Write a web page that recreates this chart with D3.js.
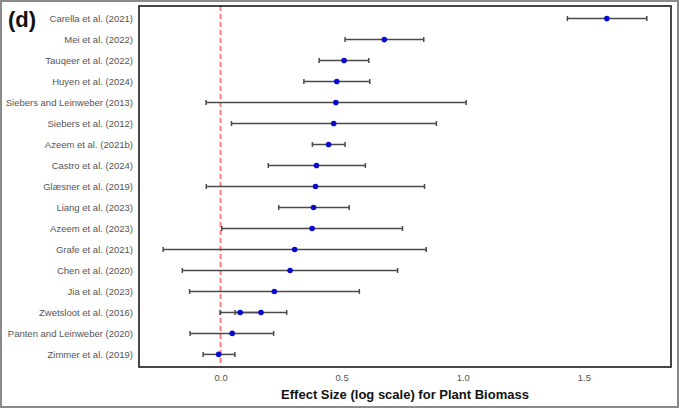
<!DOCTYPE html>
<html>
<head>
<meta charset="utf-8">
<script src="https://cdn.jsdelivr.net/npm/d3@7"></script>
<style>
  body { margin: 0; background: #fff; }
  svg { display: block; font-family: "Liberation Sans", Arial, sans-serif; }
</style>
</head>
<body>
<div id="chart"></div>
<script>
// study labels, top to bottom
const studies = [
  "Carella et al. (2021)", "Mei et al. (2022)", "Tauqeer et al. (2022)",
  "Huyen et al. (2024)", "Siebers and Leinweber (2013)", "Siebers et al. (2012)",
  "Azeem et al. (2021b)", "Castro et al. (2024)", "Glæsner et al. (2019)",
  "Liang et al. (2023)", "Azeem et al. (2023)", "Grafe et al. (2021)",
  "Chen et al. (2020)", "Jia et al. (2023)", "Zwetsloot et al. (2016)",
  "Panten and Leinweber (2020)", "Zimmer et al. (2019)"
];

// one entry per estimate (Zwetsloot has two)
const rowStudy = [
  "Carella et al. (2021)", "Mei et al. (2022)", "Tauqeer et al. (2022)",
  "Huyen et al. (2024)", "Siebers and Leinweber (2013)", "Siebers et al. (2012)",
  "Azeem et al. (2021b)", "Castro et al. (2024)", "Glæsner et al. (2019)",
  "Liang et al. (2023)", "Azeem et al. (2023)", "Grafe et al. (2021)",
  "Chen et al. (2020)", "Jia et al. (2023)", "Zwetsloot et al. (2016)",
  "Zwetsloot et al. (2016)", "Panten and Leinweber (2020)", "Zimmer et al. (2019)"
];
const effect = [1.595, 0.676, 0.510, 0.480, 0.476, 0.467, 0.446, 0.396, 0.392, 0.384, 0.378, 0.306, 0.287, 0.222, 0.081, 0.167, 0.048, -0.008];
const lower  = [1.432, 0.514, 0.407, 0.344, -0.060, 0.045, 0.379, 0.197, -0.059, 0.240, 0.005, -0.237, -0.158, -0.128, -0.002, 0.060, -0.126, -0.072];
const upper  = [1.760, 0.839, 0.612, 0.616, 1.014, 0.891, 0.514, 0.598, 0.842, 0.531, 0.751, 0.849, 0.731, 0.573, 0.165, 0.273, 0.219, 0.059];

const xTicks = [0, 0.5, 1.0, 1.5];
const xTitle = "Effect Size (log scale) for Plant Biomass";
const panelTag = "(d)";

const width = 679, height = 408;
const margin = {top: 6, right: 8, bottom: 41, left: 139};

const svg = d3.select("#chart").append("svg")
  .attr("width", width)
  .attr("height", height);

// outer frame of the figure
svg.append("rect")
  .attr("x", 1).attr("y", 1)
  .attr("width", width - 2).attr("height", height - 2)
  .attr("fill", "none")
  .attr("stroke", "#8a8a8a")
  .attr("stroke-width", 2);

const data = rowStudy.map((s, i) => ({study: s, est: effect[i], lo: lower[i], hi: upper[i]}));

// ggplot-like 5% expansion
const lo = d3.min(lower), hi = d3.max(upper), pad = (hi - lo) * 0.05;
const x = d3.scaleLinear()
  .domain([lo - pad, hi + pad])
  .range([margin.left, width - margin.right]);

const y = d3.scalePoint()
  .domain(studies)
  .range([margin.top, height - margin.bottom])
  .padding(0.6);

// reference line at zero
svg.append("line")
  .attr("x1", x(0)).attr("x2", x(0))
  .attr("y1", margin.top).attr("y2", height - margin.bottom)
  .attr("stroke", "#f47f7f")
  .attr("stroke-width", 2)
  .attr("stroke-dasharray", "5,3");

// error bars
const bars = svg.append("g").selectAll("g")
  .data(data)
  .enter().append("g")
  .attr("stroke", "#4a4a4a")
  .attr("stroke-width", 1.5);

bars.append("line")
  .attr("x1", d => x(d.lo)).attr("x2", d => x(d.hi))
  .attr("y1", d => y(d.study)).attr("y2", d => y(d.study));
bars.append("line")
  .attr("x1", d => x(d.lo)).attr("x2", d => x(d.lo))
  .attr("y1", d => y(d.study) - 2.5).attr("y2", d => y(d.study) + 2.5);
bars.append("line")
  .attr("x1", d => x(d.hi)).attr("x2", d => x(d.hi))
  .attr("y1", d => y(d.study) - 2.5).attr("y2", d => y(d.study) + 2.5);

// points
svg.append("g").selectAll("circle")
  .data(data)
  .enter().append("circle")
  .attr("cx", d => x(d.est))
  .attr("cy", d => y(d.study))
  .attr("r", 2.8)
  .attr("fill", "#0a0acc");

// panel border
svg.append("rect")
  .attr("x", margin.left).attr("y", margin.top)
  .attr("width", width - margin.left - margin.right)
  .attr("height", height - margin.top - margin.bottom)
  .attr("fill", "none")
  .attr("stroke", "#1a1a1a")
  .attr("stroke-width", 1.6);

// y labels
svg.append("g").selectAll("text")
  .data(studies)
  .enter().append("text")
  .attr("x", margin.left - 6)
  .attr("y", d => y(d))
  .attr("dy", "0.35em")
  .attr("text-anchor", "end")
  .attr("font-size", "9.5px")
  .attr("fill", "#555")
  .text(d => d);

// x axis labels (no tick marks)
const xAxis = svg.append("g")
  .attr("transform", `translate(0,${height - margin.bottom})`)
  .call(d3.axisBottom(x).tickValues(xTicks).tickFormat(d3.format(".1f")).tickSize(0).tickPadding(7));
xAxis.select(".domain").remove();
xAxis.selectAll("text")
  .attr("font-family", "Liberation Sans, Arial, sans-serif")
  .attr("font-size", "9.5px")
  .attr("fill", "#555");

svg.append("text")
  .attr("x", (margin.left + width - margin.right) / 2)
  .attr("y", 399)
  .attr("text-anchor", "middle")
  .attr("font-size", "13px")
  .attr("font-weight", "bold")
  .attr("fill", "#111")
  .text(xTitle);

svg.append("text")
  .attr("x", 8)
  .attr("y", 27)
  .attr("font-size", "22px")
  .attr("font-weight", "bold")
  .attr("fill", "#111")
  .text(panelTag);
</script>
</body>
</html>
